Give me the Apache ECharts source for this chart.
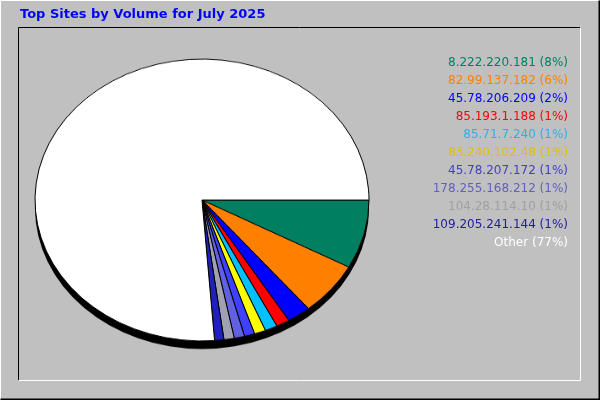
<!DOCTYPE html><html><head><meta charset="utf-8">
<script src="https://cdn.jsdelivr.net/npm/echarts@6/dist/echarts.min.js"></script>
<style>body{margin:0;width:600px;height:400px;overflow:hidden;position:relative}
#bg{position:absolute;left:0;top:0;width:600px;height:400px}
#pie{position:absolute;left:0;top:0;width:600px;height:474px;transform:scaleY(0.844);transform-origin:0 0}</style>
</head><body><div id="bg"></div><div id="pie"></div><script>
const sites=["8.222.220.181","82.99.137.182","45.78.206.209","85.193.1.188","85.71.7.240","83.240.102.48","45.78.207.172","178.255.168.212","104.28.114.10","109.205.241.144","Other"];
const values=[7.9,6.1,2.3,1.3,1.2,1.1,1.0,1.0,1.0,0.9,76.2];
const pcts=[8,6,2,1,1,1,1,1,1,1,77];
const colors=["#008060","#ff8000","#0000ff","#ff0000","#00c0ff","#ffff00","#4040ff","#6060e0","#a0a0b0","#2020c0","#ffffff"];
const textColors=["#008060","#ff8000","#0000ff","#ff0000","#30b0e0","#e0c000","#4040c0","#6060c0","#a0a0a0","#2020a0","#ffffff"];
const k=0.844;
const bg=echarts.init(document.getElementById('bg'));
const g=[
 {type:'rect',shape:{x:0,y:0,width:600,height:400},style:{fill:'#c0c0c0'}},
 {type:'polyline',shape:{points:[[0.5,399.5],[0.5,0.5],[599.5,0.5]]},style:{stroke:'#ffffff',lineWidth:1,fill:null}},
 {type:'polyline',shape:{points:[[0.5,399.5],[599.5,399.5],[599.5,0.5]]},style:{stroke:'#000000',lineWidth:2,fill:null}},
 {type:'polyline',shape:{points:[[18.5,380.5],[18.5,27.5],[580.5,27.5]]},style:{stroke:'#000000',lineWidth:1,fill:null}},
 {type:'polyline',shape:{points:[[18.5,380.5],[580.5,380.5],[580.5,27.5]]},style:{stroke:'#ffffff',lineWidth:1,fill:null}},
 {type:'text',x:20,y:8,style:{text:'Top Sites by Volume for July 2025',fill:'#0000ff',font:'bold 13px "DejaVu Sans"'}}
];
sites.forEach((s,i)=>g.push({type:'text',x:568,y:57+i*18,style:{text:s+' ('+pcts[i]+'%)',fill:textColors[i],font:'12px "DejaVu Sans"',align:'right'}}));
bg.setOption({graphic:g});
const pie=echarts.init(document.getElementById('pie'));
pie.setOption({animation:false,series:[
 {type:'pie',center:[202,208/k],radius:[0,167],silent:true,label:{show:false},data:[{value:1,itemStyle:{color:'#000'}}],z:1},
 {type:'pie',center:[202,200/k],radius:[0,167],startAngle:0,clockwise:true,label:{show:false},labelLine:{show:false},
  itemStyle:{borderColor:'#000',borderWidth:1},
  data:values.map((v,i)=>({name:sites[i],value:v,itemStyle:{color:colors[i]}})),z:2}
]});
</script></body></html>
